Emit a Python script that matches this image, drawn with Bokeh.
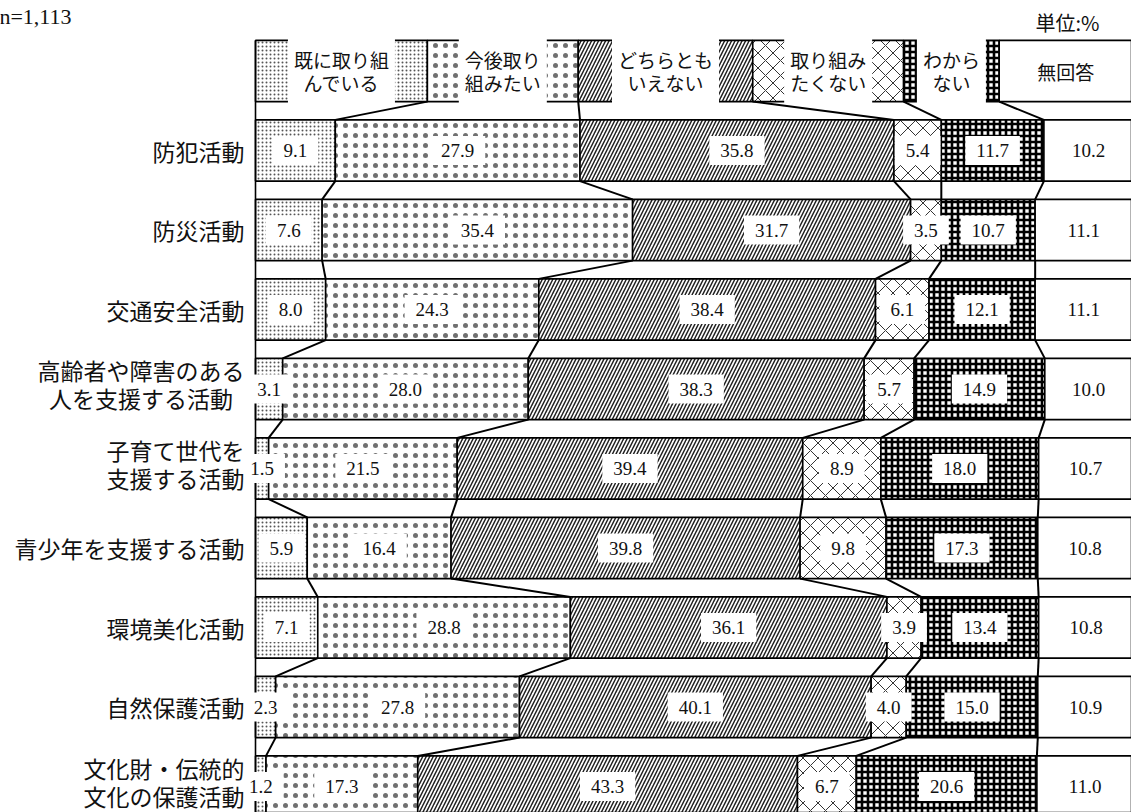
import numpy as np
import pandas as pd
from bokeh.plotting import figure
from bokeh.models import Range1d, ColumnDataSource
from bokeh.core.properties import value
from bokeh.embed import file_html
from bokeh.resources import INLINE

# ---------------- data ----------------
categories = ["防犯活動", "防災活動", "交通安全活動",
              "高齢者や障害のある\n人を支援する活動", "子育て世代を\n支援する活動",
              "青少年を支援する活動", "環境美化活動", "自然保護活動",
              "文化財・伝統的\n文化の保護活動"]
series_names = ["既に取り組んでいる", "今後取り組みたい", "どちらともいえない",
                "取り組みたくない", "わからない", "無回答"]
legend_labels = ["既に取り組\nんでいる", "今後取り\n組みたい", "どちらとも\nいえない",
                 "取り組み\nたくない", "わから\nない", "無回答"]
already   = [9.1, 7.6, 8.0, 3.1, 1.5, 5.9, 7.1, 2.3, 1.2]
future    = [27.9, 35.4, 24.3, 28.0, 21.5, 16.4, 28.8, 27.8, 17.3]
neither   = [35.8, 31.7, 38.4, 38.3, 39.4, 39.8, 36.1, 40.1, 43.3]
not_want  = [5.4, 3.5, 6.1, 5.7, 8.9, 9.8, 3.9, 4.0, 6.7]
unknown   = [11.7, 10.7, 12.1, 14.9, 18.0, 17.3, 13.4, 15.0, 20.6]
no_answer = [10.2, 11.1, 11.1, 10.0, 10.7, 10.8, 10.8, 10.9, 11.0]
n_text = "n=1,113"
unit_text = "単位:%"

# ---------------- layout ----------------
legend_edges = [0, 19.6, 36.8, 56.7, 73.9, 84.8, 100]   # header box edges (%)
PX_PER_PCT = 8.77
X0_PX = 255.0
W, H = 1131, 812
ROW_PITCH = 79.5
ROW0_PX = 70.5
BAR_H = 0.77

def px_to_x(px):
    return (px - X0_PX) / PX_PER_PCT

def py_to_y(py):
    return (py - ROW0_PX) / ROW_PITCH

series = [already, future, neither, not_want, unknown, no_answer]
vals = np.array(series).T            # rows x series
cum = np.hstack([np.zeros((vals.shape[0], 1)), np.cumsum(vals, axis=1)])
rows = np.arange(1, len(categories) + 1)

p = figure(width=W, height=H,
           x_range=Range1d(px_to_x(0), px_to_x(W)),
           y_range=Range1d(py_to_y(H), py_to_y(0)),
           output_backend="svg", toolbar_location=None,
           x_axis_location=None, y_axis_location=None, min_border=0)
p.grid.visible = False
p.outline_line_color = None
p.background_fill_color = "white"

pattern_cfg = [
    ("dot", 4, 0.4, "#555555"),
    ("dot", 10, 0.2, "#707070"),
    ("right_diagonal_line", 7, 1.5, "#222222"),
    ("diagonal_cross", 15, 1.0, "#333333"),
    ("cross", 6, 2.6, "#000000"),
    (None, 1, 1.0, "#000000"),
]

# ---------------- bars (header row 0 + data rows) ----------------
for k in range(6):
    ys = [0] + list(rows)
    lefts = [legend_edges[k]] + list(cum[:, k])
    rights = [legend_edges[k + 1]] + list(cum[:, k + 1])
    src = ColumnDataSource(dict(y=ys, left=lefts, right=rights))
    name, sc, wt, col = pattern_cfg[k]
    kw = dict(y="y", left="left", right="right", height=BAR_H, source=src,
              fill_color="white", line_color="black", line_width=1.6)
    if name:
        kw.update(hatch_pattern=name, hatch_scale=sc, hatch_weight=wt, hatch_color=col)
    p.hbar(**kw)

# ---------------- connector lines ----------------
edges_all = [legend_edges] + [list(c) for c in cum]
x0s, y0s, x1s, y1s = [], [], [], []
for r in range(len(edges_all) - 1):
    for k in range(1, 6):
        x0s.append(edges_all[r][k]); y0s.append(r + BAR_H / 2)
        x1s.append(edges_all[r + 1][k]); y1s.append(r + 1 - BAR_H / 2)
p.segment(x0=x0s, y0=y0s, x1=x1s, y1=y1s, line_color="black", line_width=2)

# frame lines (left & right)
p.segment(x0=[0, 100], y0=[-BAR_H / 2] * 2, x1=[0, 100], y1=[len(categories) + 1] * 2,
          line_color="black", line_width=1.6)

# ---------------- value labels ----------------
lab_x, lab_y, lab_t = [], [], []
for i, r in enumerate(rows):
    for k in range(6):
        lab_x.append((cum[i, k] + cum[i, k + 1]) / 2)
        lab_y.append(r)
        lab_t.append(f"{vals[i, k]:.1f}")
p.text(x=lab_x, y=lab_y, text=lab_t, text_align="center", text_baseline="middle",
       text_font=value("Liberation Serif"), text_font_size="19px", text_color="#111111",
       background_fill_color="white", padding=(11, 8))

# ---------------- legend header labels ----------------
hx = [(legend_edges[k] + legend_edges[k + 1]) / 2 for k in range(6)]
p.text(x=hx, y=[0] * 6, text=legend_labels, text_align="center", text_baseline="middle",
       text_font=value("Noto Sans CJK JP"), text_font_size="19px", text_color="#111111",
       text_line_height=0.87, background_fill_color="white", padding=(6, 7))

# ---------------- category labels ----------------
LAB_FS = 23
right_x = px_to_x(244)
cat_x = []
for c in categories:
    n = max(len(s) for s in c.split("\n"))
    cat_x.append(right_x - n * LAB_FS / PX_PER_PCT / 2)
p.text(x=cat_x, y=[r - 0.06 if "\n" in c else r for r, c in zip(rows, categories)],
       text=categories, text_align="center", text_baseline="middle",
       text_font=value("Noto Sans CJK JP"), text_font_size=f"{LAB_FS}px", text_color="#111111",
       text_line_height=0.82)

# ---------------- top texts ----------------
p.text(x=[px_to_x(71)], y=[py_to_y(16)], text=[n_text], text_align="right",
       text_baseline="middle", text_font=value("Liberation Serif"),
       text_font_size="22px", text_color="#111111")
p.text(x=[px_to_x(1099)], y=[py_to_y(22)], text=[unit_text], text_align="right",
       text_baseline="middle", text_font=value("Noto Sans CJK JP"),
       text_font_size="20px", text_color="#111111")

open("out.html", "w").write(file_html(p, INLINE))
